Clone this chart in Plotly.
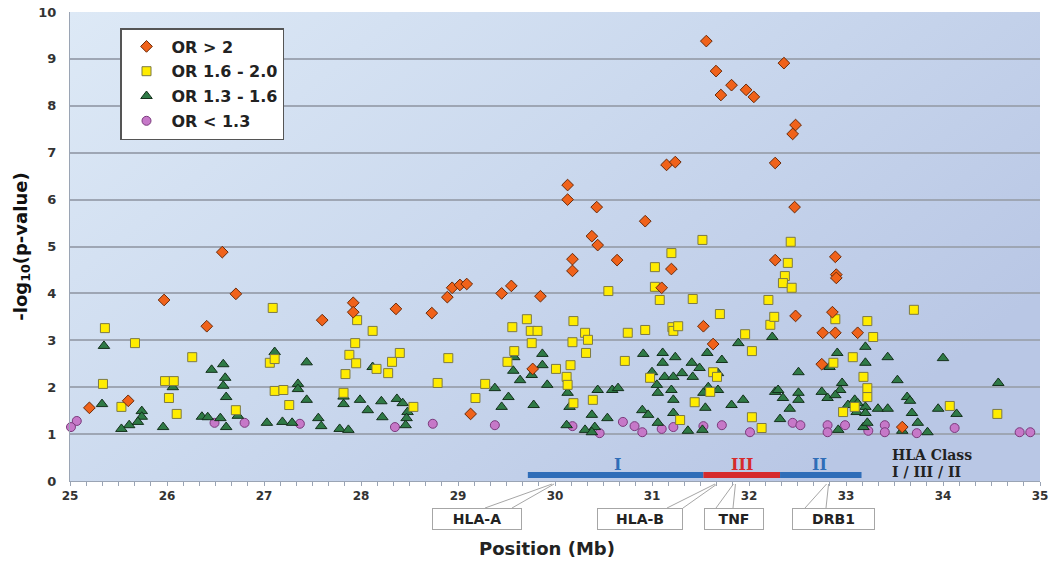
import base64
import plotly.graph_objects as go

# ---------------- data ----------------
or_gt2_x = [31.56, 31.66, 31.71, 31.82, 31.97, 32.05, 32.36, 32.48, 32.45, 32.27, 31.15, 31.24, 32.47,
            30.13, 30.13, 30.43, 30.93, 30.38, 30.44, 30.18, 30.18, 30.64, 31.20, 26.57, 26.71, 25.97,
            26.41, 25.20, 25.60, 27.60, 27.92, 27.92, 28.36, 28.73, 28.89, 28.94, 29.02, 29.09, 29.45,
            29.55, 29.85, 29.13, 29.77, 31.10, 31.53, 31.63, 32.27, 32.89, 32.90, 32.90, 32.48, 32.86,
            32.76, 32.89, 33.12, 32.75, 33.58]
or_gt2_y = [9.38, 8.74, 8.23, 8.44, 8.34, 8.19, 8.91, 7.59, 7.40, 6.78, 6.74, 6.80, 5.84,
            6.31, 6.00, 5.84, 5.54, 5.22, 5.03, 4.73, 4.48, 4.71, 4.52, 4.88, 3.99, 3.86,
            3.30, 1.56, 1.71, 3.43, 3.80, 3.60, 3.67, 3.58, 3.92, 4.12, 4.18, 4.20, 4.00,
            4.16, 3.94, 1.43, 2.39, 4.12, 3.30, 2.92, 4.71, 4.78, 4.40, 4.33, 3.52, 3.60,
            3.16, 3.16, 3.16, 2.49, 1.15]

or_16_20_x = [25.36, 25.67, 26.26, 27.06, 27.11, 25.34, 25.98, 26.07, 26.02, 26.10, 26.71, 25.53,
              27.09, 27.11, 27.20, 27.26, 27.88, 27.84, 27.82, 27.96, 28.12, 27.94, 27.95, 28.40,
              28.32, 28.28, 28.16, 28.90, 28.79, 28.54, 29.71, 29.56, 29.75, 29.82, 29.76, 30.19,
              30.31, 30.34, 30.18, 30.32, 29.58, 29.51, 30.01, 30.16, 30.12, 30.13, 30.19, 29.28,
              29.18, 30.39, 30.55, 31.52, 31.20, 31.03, 31.03, 31.08, 31.42, 31.70, 30.75, 30.93,
              31.21, 31.22, 31.27, 31.96, 32.03, 30.72, 30.98, 31.63, 31.67, 31.60, 31.44, 31.29,
              32.03, 32.13, 32.20, 32.22, 32.26, 32.43, 32.40, 32.37, 32.35, 32.44, 32.89, 33.22,
              33.28, 33.70, 33.07, 32.87, 33.18, 33.22, 33.22, 33.09, 32.97, 34.07, 34.56]
or_16_20_y = [3.26, 2.94, 2.64, 2.52, 2.60, 2.07, 2.13, 2.13, 1.77, 1.43, 1.51, 1.58,
              3.69, 1.92, 1.94, 1.62, 2.69, 2.28, 1.88, 3.43, 3.20, 2.94, 2.51, 2.73,
              2.54, 2.30, 2.39, 2.62, 2.09, 1.58, 3.45, 3.28, 3.20, 3.20, 2.94, 3.41,
              3.16, 3.01, 2.96, 2.73, 2.77, 2.54, 2.39, 2.47, 2.22, 2.05, 1.66, 2.07,
              1.77, 1.73, 4.05, 5.14, 4.86, 4.56, 4.14, 3.86, 3.88, 3.56, 3.16, 3.22,
              3.28, 3.20, 3.30, 3.13, 2.77, 2.56, 2.20, 2.32, 2.22, 1.90, 1.68, 1.30,
              1.36, 1.13, 3.86, 3.33, 3.50, 5.10, 4.65, 4.37, 4.22, 4.12, 3.45, 3.41,
              3.07, 3.65, 2.64, 2.52, 2.22, 1.98, 1.79, 1.58, 1.47, 1.60, 1.43]

or_13_16_x = [25.35, 26.46, 26.58, 26.60, 26.58, 26.61, 26.73, 25.33, 25.74, 25.74, 25.70, 25.61,
              25.53, 25.96, 26.36, 26.42, 26.55, 26.61, 26.06, 27.03, 27.19, 27.29, 27.56, 27.59,
              27.78, 27.87, 27.11, 27.35, 27.35, 27.44, 27.44, 27.82, 27.82, 27.99, 28.07, 28.21,
              28.22, 28.37, 28.43, 28.48, 28.47, 28.46, 28.12, 29.58, 29.57, 29.64, 29.76, 29.87,
              29.87, 29.92, 29.38, 29.52, 29.45, 29.78, 30.13, 30.15, 30.12, 30.38, 30.44, 30.59,
              30.54, 30.41, 30.31, 30.38, 30.91, 31.11, 31.24, 31.00, 31.11, 31.13, 31.22, 31.31,
              31.05, 31.06, 31.20, 31.22, 31.41, 31.49, 31.42, 31.57, 31.72, 31.68, 31.58, 31.53,
              31.68, 31.55, 31.82, 31.94, 30.90, 30.96, 31.22, 31.37, 31.52, 30.65, 32.27, 32.24,
              31.89, 32.91, 33.20, 33.20, 33.43, 34.00, 32.51, 32.83, 33.53, 34.57, 32.96, 32.94,
              32.75, 32.81, 32.30, 32.35, 32.51, 32.51, 32.42, 32.32, 33.09, 33.20, 33.33, 33.43,
              33.63, 33.66, 33.68, 33.95, 34.14, 33.74, 33.84, 32.92, 33.18, 33.58, 33.02, 33.12,
              33.11, 33.20, 33.22, 32.89, 31.06]
or_13_16_y = [2.88, 2.37, 2.49, 2.20, 2.03, 1.79, 1.39, 1.64, 1.49, 1.37, 1.26, 1.19,
              1.11, 1.15, 1.37, 1.36, 1.34, 1.15, 2.00, 1.24, 1.26, 1.24, 1.34, 1.17,
              1.11, 1.09, 2.75, 2.07, 1.96, 2.53, 1.73, 1.80, 1.64, 1.73, 1.51, 1.70,
              1.36, 1.75, 1.66, 1.47, 1.34, 1.19, 2.43, 2.64, 2.35, 2.15, 2.26, 2.71,
              2.47, 2.05, 1.98, 1.79, 1.58, 1.62, 1.88, 1.58, 1.19, 1.41, 1.94, 1.94,
              1.34, 1.15, 1.09, 1.04, 2.71, 2.73, 2.64, 2.32, 2.52, 2.22, 2.22, 2.30,
              2.05, 1.88, 1.94, 1.73, 2.52, 2.41, 2.22, 2.73, 2.58, 2.30, 2.00, 1.88,
              1.94, 1.56, 1.62, 1.73, 1.51, 1.41, 1.45, 1.07, 1.09, 1.98, 1.90, 3.07,
              2.94, 2.73, 2.86, 2.52, 2.64, 2.62, 2.32, 2.43, 2.15, 2.09, 2.09, 1.94,
              1.90, 1.77, 1.94, 1.77, 1.88, 1.73, 1.54, 1.32, 1.73, 1.58, 1.54, 1.54,
              1.79, 1.71, 1.45, 1.54, 1.43, 1.24, 1.04, 1.09, 1.15, 1.07, 1.62, 1.66,
              1.47, 1.45, 1.24, 1.83, 1.24]

or_lt13_x = [25.07, 25.01, 26.49, 26.80, 27.37, 28.35, 28.74, 29.38, 30.18, 30.46, 30.70, 30.82,
             30.90, 31.10, 31.22, 31.53, 31.72, 32.01, 32.45, 32.53, 32.81, 32.99, 32.81, 33.23,
             33.40, 33.40, 33.73, 34.12, 34.79, 34.90]
or_lt13_y = [1.28, 1.15, 1.24, 1.24, 1.22, 1.15, 1.22, 1.19, 1.17, 1.02, 1.26, 1.17,
             1.04, 1.11, 1.15, 1.17, 1.19, 1.04, 1.24, 1.19, 1.19, 1.19, 1.04, 1.07,
             1.19, 1.04, 1.02, 1.13, 1.04, 1.04]

series_names = ["OR > 2", "OR 1.6 - 2.0", "OR 1.3 - 1.6", "OR < 1.3"]

# HLA class regions (Mb)
class_starts = [29.72, 31.53, 32.32]
class_ends = [31.53, 32.32, 33.16]
class_labels = ["I", "III", "II"]
class_label_pos = [30.64, 31.93, 32.73]
class_colors = ["#2f6db8", "#d62a2c", "#2f6db8"]

# gene callouts: label, position on axis (Mb)
genes = ["HLA-A", "HLA-B", "TNF", "DRB1"]
gene_pos = [29.98, 31.66, 31.85, 32.81]

x_ticks = list(range(25, 36))
y_ticks = list(range(0, 11))

# ---------------- layout helpers ----------------
W, H = 1050, 561
ML, MR, MT, MB = 70, 10, 12, 80
PW = W - ML - MR
PH = H - MT - MB
SANS = "DejaVu Sans"
SERIF = "DejaVu Serif"


def px(xp):
    return (xp - ML) / PW


def py(yp):
    return (H - MB - yp) / PH


def mb2px(v):
    return ML + (v - 25) / 10 * PW


fig = go.Figure()

styles = [
    dict(symbol="diamond", size=9, color="#f0621a", line=dict(color="#6a2a08", width=1)),
    dict(symbol="square", size=9, color="#ffec00", line=dict(color="#7d7a45", width=1)),
    dict(symbol="triangle-up", size=10, color="#2f7a46", line=dict(color="#14301c", width=1)),
    dict(symbol="circle", size=9, color="#c678c8", line=dict(color="#7a3a7c", width=1)),
]
data = [(or_gt2_x, or_gt2_y), (or_16_20_x, or_16_20_y), (or_13_16_x, or_13_16_y), (or_lt13_x, or_lt13_y)]

# draw low-OR first so high-OR sit on top, legend order kept by rank
order = [3, 2, 1, 0]
for i in order:
    xs, ys = data[i]
    fig.add_trace(go.Scatter(x=xs, y=ys, mode="markers", name=series_names[i],
                             marker=styles[i], legendrank=i + 1, legendgroup=str(i),
                             cliponaxis=False))

# background gradient
svg = ('<svg xmlns="http://www.w3.org/2000/svg" width="100" height="100" viewBox="0 0 100 100" '
       'preserveAspectRatio="none"><defs><linearGradient id="g" x1="0" y1="0" x2="1" y2="0.6">'
       '<stop offset="0" stop-color="#dde9f6"/><stop offset="0.5" stop-color="#cbd9ee"/>'
       '<stop offset="1" stop-color="#b9c7e5"/></linearGradient></defs>'
       '<rect width="100" height="100" fill="url(#g)"/></svg>')
src = "data:image/svg+xml;base64," + base64.b64encode(svg.encode()).decode()

shapes = []
annotations = []

# HLA class bar
for s, e, c in zip(class_starts, class_ends, class_colors):
    shapes.append(dict(type="line", xref="x", yref="y", x0=s, x1=e, y0=0.13, y1=0.13,
                       line=dict(color=c, width=6), layer="above"))
for lab, pos, c in zip(class_labels, class_label_pos, class_colors):
    annotations.append(dict(x=pos, y=0.36, xref="x", yref="y", text=lab, showarrow=False,
                            xanchor="center", yanchor="middle",
                            font=dict(family=SERIF, size=16, color=c, weight="bold")))
annotations.append(dict(x=px(890), y=py(455), xref="paper", yref="paper", xanchor="left",
                        yanchor="middle", text="HLA Class", showarrow=False,
                        font=dict(family=SERIF, size=14, color="#222", weight="bold")))
annotations.append(dict(x=px(890), y=py(472), xref="paper", yref="paper", xanchor="left",
                        yanchor="middle", text="I / III / II", showarrow=False,
                        font=dict(family=SERIF, size=14, color="#222", weight="bold")))

# gene callout boxes (pixel geometry of the decorations)
box_centers = [477, 640, 734, 833]
box_widths = [90, 86, 60, 83]
wedge_bases = [(485, 512), (667, 683), (716, 733), (805, 826)]
for g, gp, bc, bw, wb in zip(genes, gene_pos, box_centers, box_widths, wedge_bases):
    ax = mb2px(gp)
    annotations.append(dict(x=px(bc), y=py(519), xref="paper", yref="paper", text=g,
                            xanchor="center", yanchor="middle",
                            showarrow=False, width=bw - 2, height=20, bgcolor="white",
                            bordercolor="#a6a6a6", borderwidth=1, borderpad=0,
                            font=dict(family=SANS, size=14, color="#222", weight="bold")))
    for b, off in zip(wb, (-1, 1)):
        shapes.append(dict(type="line", xref="paper", yref="paper", x0=px(b), y0=py(508),
                           x1=px(ax + off), y1=py(484), line=dict(color="#a6a6a6", width=1)))

# x title
annotations.append(dict(x=px(547), y=py(548), xref="paper", yref="paper", text="Position (Mb)",
                        xanchor="center", yanchor="middle", showarrow=False,
                        font=dict(family=SANS, size=18, color="#222", weight="bold")))

fig.update_layout(
    width=W, height=H,
    margin=dict(l=ML, r=MR, t=MT, b=MB, autoexpand=False),
    paper_bgcolor="white",
    plot_bgcolor="#cbd9ee",
    images=[dict(source=src, xref="paper", yref="paper", x=0, y=1, sizex=1, sizey=1,
                 xanchor="left", yanchor="top", sizing="stretch", layer="below")],
    shapes=shapes,
    annotations=annotations,
    showlegend=True,
    legend=dict(x=px(120), y=py(28), xanchor="left", yanchor="top", bgcolor="white",
                bordercolor="#555", borderwidth=1.5, tracegroupgap=1, itemwidth=40,
                font=dict(family=SANS, size=16, color="#222", weight="bold")),
    xaxis=dict(range=[25, 35], tickvals=x_ticks, ticktext=[str(t) for t in x_ticks],
               automargin=False,
               showgrid=False, zeroline=False, showline=True, linecolor="#9aa4b4", linewidth=1,
               ticks="outside", ticklen=4, tickcolor="#9aa4b4",
               minor=dict(dtick=1 / 6, tick0=25, ticks="outside", ticklen=4, tickcolor="#9aa4b4"),
               tickfont=dict(family=SANS, size=12, color="#333", weight="bold")),
    yaxis=dict(range=[0, 10], tickvals=y_ticks, showgrid=True, gridcolor="#9ea6b4", gridwidth=1.5,
               automargin=False,
               zeroline=False, showline=True, linecolor="#9aa4b4", linewidth=1, ticks="",
               ticklabelstandoff=10,
               tickfont=dict(family=SANS, size=13, color="#333", weight="bold"),
               title=dict(text="-log<sub>10</sub>(p-value)", standoff=6,
                          font=dict(family=SANS, size=18, color="#111", weight="bold"))),
)

fig.write_html("out.html", config={"displayModeBar": False},
               post_script="document.body.style.margin='0';")
